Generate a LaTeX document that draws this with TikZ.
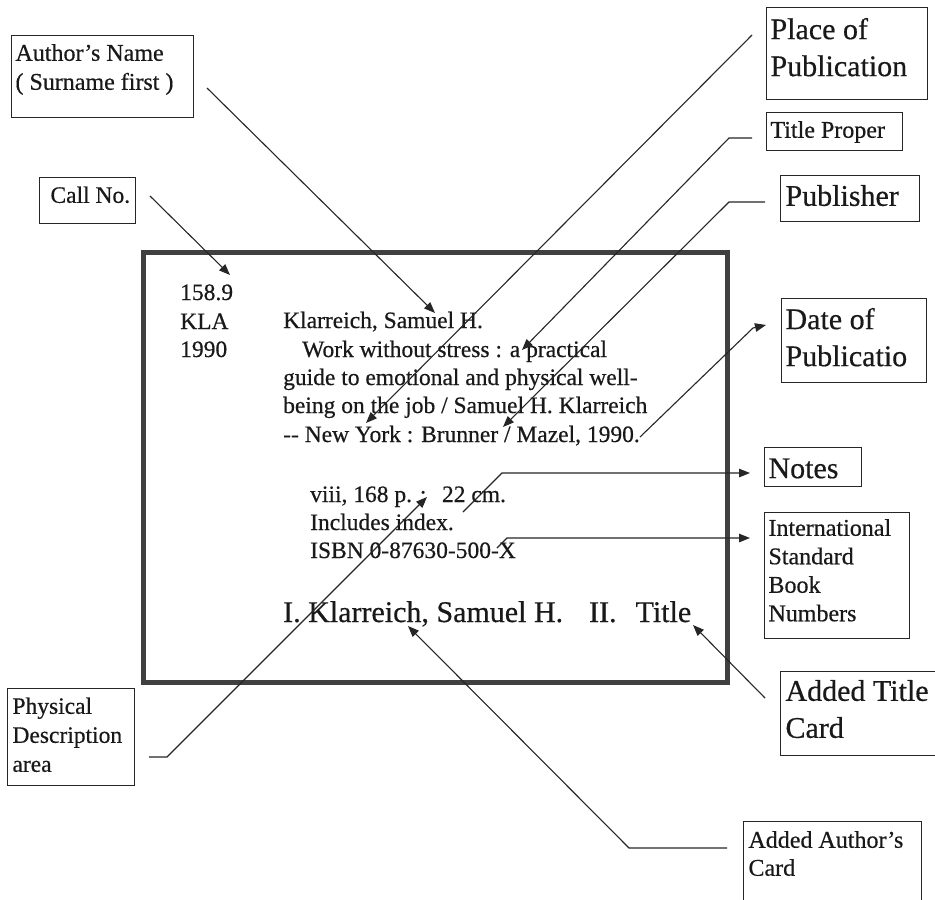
\documentclass[tikz,border=0pt]{standalone}
\usepackage{fontspec}
\setmainfont[FakeBold=0.5]{Liberation Serif}
\usetikzlibrary{arrows.meta}

% box text: width, height, left pad, top pad, text
\newcommand{\lbltext}[5]{%
  \begin{minipage}[b][#2][t]{#1}\vspace*{#4}\leftskip=#3\relax#5\end{minipage}}

\begin{document}
\begin{tikzpicture}[x=1pt,y=-1pt,
  lbl/.style={draw=black!85,line width=1pt,anchor=north west,inner sep=0pt,text=black!90},
  cardtxt/.style={anchor=base west,inner sep=0pt,text=black!90,font=\fontsize{23.5}{28}\selectfont},
  ptr/.style={draw=black!85,line width=1.1pt,-{Triangle[length=11pt,width=8.5pt]}},
  ]
\useasboundingbox (0,0) rectangle (935,900);
\fill[white] (0,0) rectangle (935,900);

% the catalogue card
\draw[black!75,line width=5pt] (143,252) rectangle (727,682);

\node[cardtxt] (cn1) at (180,300) {158.9};
\node[cardtxt] (cn2) at (180,329) {KLA};
\node[cardtxt] (cn3) at (180,357) {1990};
\node[cardtxt] (heading) at (283,328) {Klarreich, Samuel H.};
\node[cardtxt] (title1) at (302,357) {Work without stress : a practical};
\node[cardtxt] (title2) at (283,385) {guide to emotional and physical well-};
\node[cardtxt] (title3) at (283,413) {being on the job / Samuel H. Klarreich};
\node[cardtxt] (imprint) at (283,442) {-{}- New York : Brunner / Mazel, 1990.};
\node[cardtxt] (collation) at (310,502) {viii, 168 p. ;\hspace{15.6pt}22 cm.};
\node[cardtxt] (note) at (310,530) {Includes index.};
\node[cardtxt] (isbn) at (310,558) {ISBN 0-87630-500-X};
\node[cardtxt,font=\fontsize{30}{36}\selectfont] (tracing) at (283,622)
  {I. Klarreich, Samuel H.\hspace{26pt}II.\hspace{19pt}Title};

% labels
\node[lbl,font=\fontsize{24}{29}\selectfont] (author) at (11,35)
  {\lbltext{182pt}{82pt}{4pt}{8.6pt}{Author's Name\\( Surname first )}};
\node[lbl,font=\fontsize{23.5}{28}\selectfont] (callno) at (39,177)
  {\lbltext{96pt}{46pt}{11pt}{9pt}{Call No.}};
\node[lbl,font=\fontsize{30}{37}\selectfont] (place) at (766,7)
  {\lbltext{161pt}{92pt}{4pt}{10.5pt}{Place of\\Publication}};
\node[lbl,font=\fontsize{24}{29}\selectfont] (proper) at (766,112)
  {\lbltext{136pt}{38pt}{4pt}{8.6pt}{Title Proper}};
\node[lbl,font=\fontsize{30}{37}\selectfont] (publisher) at (780,175)
  {\lbltext{139pt}{46pt}{5pt}{9.5pt}{Publisher}};
\node[lbl,font=\fontsize{30}{37}\selectfont] (date) at (781,298)
  {\lbltext{145pt}{84pt}{4pt}{9.5pt}{Date of\\Publicatio}};
\node[lbl,font=\fontsize{30}{37}\selectfont] (notes) at (764,447)
  {\lbltext{97pt}{39pt}{4pt}{11pt}{Notes}};
\node[lbl,font=\fontsize{24}{28.5}\selectfont] (isbnlbl) at (764,512)
  {\lbltext{145pt}{126pt}{4pt}{6.6pt}{International\\Standard\\Book\\Numbers}};
\node[lbl,font=\fontsize{30}{37}\selectfont] (addtitle) at (780,671)
  {\lbltext{180pt}{84pt}{5pt}{8.5pt}{Added Title\\Card}};
\node[lbl,font=\fontsize{23.5}{29}\selectfont] (physical) at (7,688)
  {\lbltext{127pt}{97pt}{5pt}{9pt}{Physical\\Description\\area}};
\node[lbl,font=\fontsize{24}{28}\selectfont] (addauthor) at (743,821)
  {\lbltext{178pt}{110pt}{5pt}{9.6pt}{Added Author's\\Card}};

% connector points
\coordinate (callA) at (150,196);   \coordinate (callB) at (230,275);
\coordinate (authA) at (207,88);    \coordinate (authB) at (435,313);
\coordinate (placeA) at (752,35);   \coordinate (placeB) at (366,423);
\coordinate (propA) at (752,138);   \coordinate (propK) at (729,138);  \coordinate (propB) at (522,350);
\coordinate (pubA) at (765,202);    \coordinate (pubK) at (729,202);   \coordinate (pubB) at (503,427);
\coordinate (dateA) at (640,437);   \coordinate (dateK) at (753,328);  \coordinate (dateB) at (766,325);
\coordinate (notesA) at (463,512);  \coordinate (notesK) at (502,473); \coordinate (notesB) at (750,473);
\coordinate (isbnA) at (497,548);   \coordinate (isbnK) at (507,538);  \coordinate (isbnB) at (750,538);
\coordinate (physA) at (149,757);   \coordinate (physK) at (167,757);  \coordinate (physB) at (427,497);
\coordinate (atitleA) at (765,698); \coordinate (atitleB) at (693,625);
\coordinate (aauthA) at (727,848);  \coordinate (aauthK) at (629,848); \coordinate (aauthB) at (408,626);

\draw[ptr] (callA) -- (callB);
\draw[ptr] (authA) -- (authB);
\draw[ptr] (placeA) -- (placeB);
\draw[ptr] (propA) -- (propK) -- (propB);
\draw[ptr] (pubA) -- (pubK) -- (pubB);
\draw[ptr] (dateA) -- (dateK) -- (dateB);
\draw[ptr] (notesA) -- (notesK) -- (notesB);
\draw[ptr] (isbnA) -- (isbnK) -- (isbnB);
\draw[ptr] (physA) -- (physK) -- (physB);
\draw[ptr] (atitleA) -- (atitleB);
\draw[ptr] (aauthA) -- (aauthK) -- (aauthB);
\end{tikzpicture}
\end{document}
